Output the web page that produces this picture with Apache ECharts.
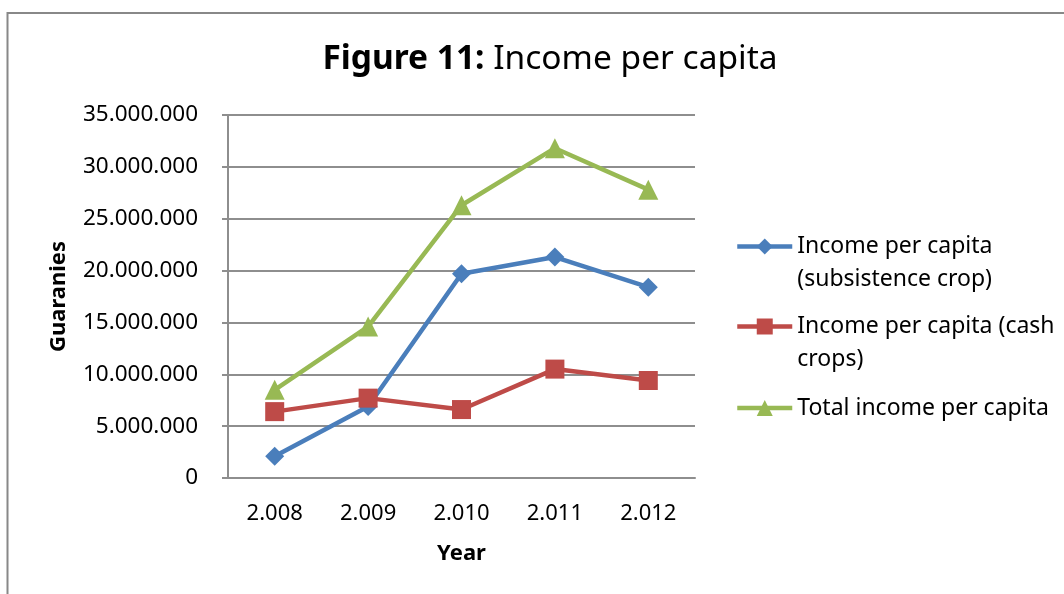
<!DOCTYPE html>
<html>
<head>
<meta charset="utf-8">
<script src="https://cdn.jsdelivr.net/npm/echarts@6/dist/echarts.min.js"></script>
<style>
  html, body { margin: 0; padding: 0; background: #ffffff; }
  #chart { width: 1064px; height: 594px; }
</style>
</head>
<body>
<div id="chart"></div>
<script>
// Income per capita in Guaranies, by year
const years = ['2.008', '2.009', '2.010', '2.011', '2.012'];
const subsistence = [2100000, 6900000, 19700000, 21300000, 18400000];
const cash = [6400000, 7700000, 6600000, 10500000, 9400000];
const total = [8500000, 14600000, 26300000, 31800000, 27800000];

const seriesNames = [
  'Income per capita (subsistence crop)',
  'Income per capita (cash crops)',
  'Total income per capita'
];
// Wrapped legend labels; a leading blank line keeps the icon beside the first line
const legendTexts = [
  '\nIncome per capita\n(subsistence crop)',
  '\nIncome per capita (cash\ncrops)',
  'Total income per capita'
];
const colors = ['#4A7EBB', '#BE4B48', '#98B954'];

const FONT = '"Noto Sans", "Open Sans", sans-serif';
const dotted = v => String(v).replace(/\B(?=(\d{3})+(?!\d))/g, '.');

const chart = echarts.init(document.getElementById('chart'), null, { renderer: 'canvas' });

function legendAt(idx, top) {
  return {
    data: [seriesNames[idx]],
    formatter: () => legendTexts[idx],
    left: 735,
    top: top,
    orient: 'vertical',
    padding: 0,
    itemWidth: 55,
    itemHeight: 20,
    selectedMode: false,
    lineStyle: { width: 4.5 },
    textStyle: {
      fontFamily: FONT,
      fontSize: 23,
      color: '#000',
      lineHeight: 33
    }
  };
}

const option = {
  backgroundColor: '#ffffff',
  animation: false,
  color: colors,
  title: {
    text: '{b|Figure 11:} Income per capita',
    left: 545,
    top: 37,
    textAlign: 'center',
    textStyle: {
      fontFamily: FONT,
      fontSize: 33.5,
      fontWeight: 'normal',
      color: '#000',
      rich: {
        b: { fontFamily: FONT, fontSize: 33.5, fontWeight: 'bold', color: '#000' }
      }
    }
  },
  graphic: [{
    type: 'rect',
    silent: true,
    shape: { x: 7.5, y: 13, width: 1200, height: 800 },
    style: { fill: 'none', stroke: '#888888', lineWidth: 2 }
  }],
  legend: [
    legendAt(0, 197),
    legendAt(1, 277),
    legendAt(2, 391.5)
  ],
  grid: { left: 228, top: 115, width: 467, height: 363, containLabel: false },
  xAxis: {
    type: 'category',
    data: years,
    boundaryGap: true,
    name: 'Year',
    nameLocation: 'middle',
    nameGap: 65,
    nameTextStyle: { fontFamily: FONT, fontSize: 22, fontWeight: 'bold', color: '#000' },
    axisLine: { lineStyle: { color: '#8e8e8e', width: 2 } },
    axisTick: { show: false },
    axisLabel: { fontFamily: FONT, fontSize: 22, color: '#000', margin: 25 }
  },
  yAxis: {
    type: 'value',
    min: 0,
    max: 35000000,
    interval: 5000000,
    name: 'Guaranies',
    nameLocation: 'middle',
    nameGap: 158,
    nameRotate: 90,
    nameTextStyle: { fontFamily: FONT, fontSize: 22, fontWeight: 'bold', color: '#000' },
    axisLine: { show: true, lineStyle: { color: '#8e8e8e', width: 2 } },
    axisTick: { show: true, length: 6, inside: false, lineStyle: { color: '#8e8e8e', width: 2 } },
    splitLine: { show: true, lineStyle: { color: '#8e8e8e', width: 2 } },
    axisLabel: { fontFamily: FONT, fontSize: 22.5, color: '#000', margin: 30, formatter: dotted }
  },
  series: [
    {
      name: seriesNames[0], type: 'line', data: subsistence,
      symbol: 'diamond', symbolSize: 19, showAllSymbol: true,
      lineStyle: { width: 4.5, color: colors[0] },
      itemStyle: { color: colors[0] }
    },
    {
      name: seriesNames[1], type: 'line', data: cash,
      symbol: 'rect', symbolSize: 19, showAllSymbol: true,
      lineStyle: { width: 4.5, color: colors[1] },
      itemStyle: { color: colors[1] }
    },
    {
      name: seriesNames[2], type: 'line', data: total,
      symbol: 'triangle', symbolSize: 20, showAllSymbol: true,
      lineStyle: { width: 4.5, color: colors[2] },
      itemStyle: { color: colors[2] }
    }
  ]
};

chart.setOption(option);
</script>
</body>
</html>
